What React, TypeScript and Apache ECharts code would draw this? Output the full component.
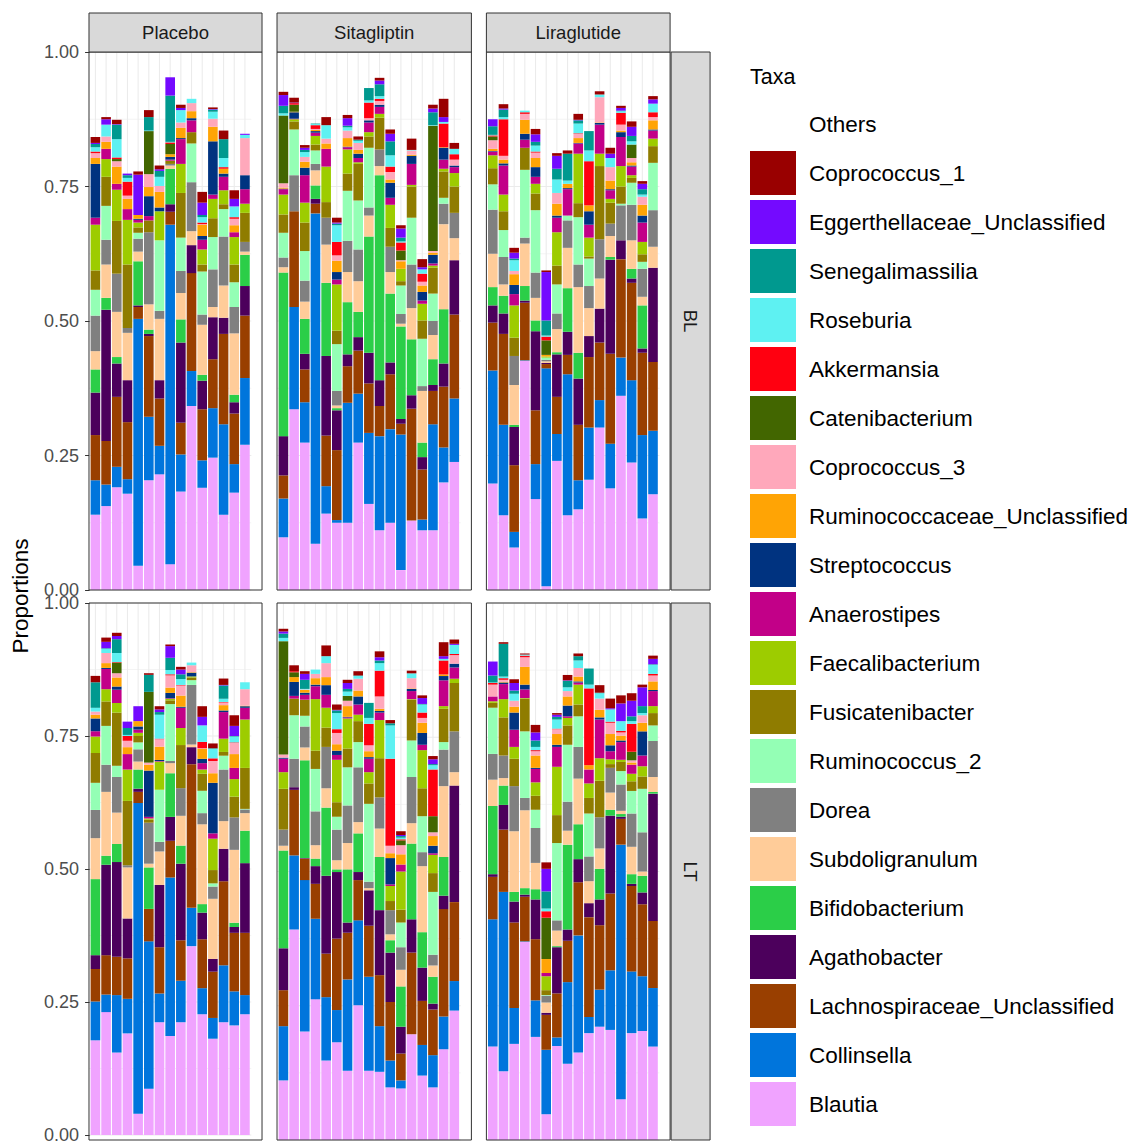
import React, { useEffect, useRef } from 'react';
import * as echarts from 'echarts';

// Stack order, bottom to top
const taxa = [
  'Blautia', 'Collinsella', 'Lachnospiraceae_Unclassified', 'Agathobacter', 'Bifidobacterium',
  'Subdoligranulum', 'Dorea', 'Ruminococcus_2', 'Fusicatenibacter', 'Faecalibacterium',
  'Anaerostipes', 'Streptococcus', 'Ruminococcaceae_Unclassified', 'Coprococcus_3', 'Catenibacterium',
  'Akkermansia', 'Roseburia', 'Senegalimassilia', 'Eggerthellaceae_Unclassified', 'Coprococcus_1',
];
const taxaColors = [
  '#F0A3FF', '#0075DC', '#993F00', '#4C005C', '#2BCE48',
  '#FFCC99', '#808080', '#94FFB5', '#8F7C00', '#9DCC00',
  '#C20088', '#003380', '#FFA405', '#FFA8BB', '#426600',
  '#FF0010', '#5EF1F2', '#00998F', '#740AFF', '#990000',
];
const treatments = ['Placebo', 'Sitagliptin', 'Liraglutide'];
const timepoints = ['BL', 'LT'];
const yTicks = [0, 0.25, 0.5, 0.75, 1];

// each row = one sample, values in taxa order (bottom to top)
const placeboBL = [
  [.14, .064, .084, .079, .043, .034, .066, .048, .036, .085, .013, .10, .011, .009, 0, .003, .008, .006, .002, .011],
  [.156, .04, .081, .244, .022, .062, .046, .063, .054, .033, .019, 0, .013, .010, 0, 0, .022, 0, .010, .004],
  [.191, .038, .13, .062, .012, .084, .071, 0, .098, .058, .011, 0, .032, .010, .004, .003, .034, .027, .001, .008],
  [.179, .027, .106, .078, 0, .088, .009, 0, .118, .083, .02, 0, .019, .006, 0, .026, .007, .005, .003, 0],
  [.045, .459, .022, .003, .082, .018, .024, .011, .01, .009, .005, .002, .007, 0, 0, 0, 0, 0, .075, .006],
  [.204, .118, .15, .004, .008, .047, .134, 0, .022, 0, .008, .037, .017, .024, .08, 0, .001, .025, 0, .013],
  [.215, .053, .088, .034, 0, .114, .015, .131, 0, .054, 0, .007, .029, .011, 0, 0, .017, .011, .003, .007],
  [.048, .631, .024, .014, .066, .006, .003, 0, .006, 0, .002, .005, .005, 0, .019, .003, .001, .086, .034, 0],
  [.183, .069, .059, .149, .043, .049, .041, .062, .083, .054, .046, .002, .019, .01, 0, 0, .023, 0, .004, .006],
  [.342, .065, .182, .052, 0, .026, .091, .072, .021, 0, .022, .004, .013, .015, 0, 0, .008, 0, 0, 0],
  [.19, .051, .095, .053, .011, .093, .019, .08, .013, .028, .018, .007, .021, .001, 0, .003, .01, .004, .023, .02],
  [.246, .092, .091, .078, 0, .019, .07, .06, .035, .036, .008, .099, .027, .015, 0, 0, .013, .004, .001, .003],
  [.14, .168, .168, .03, 0, .06, .091, .051, .009, .026, .025, .006, .009, 0, 0, .003, .017, .035, 0, .016],
  [.181, .053, .094, .021, .014, .114, .049, .046, .033, .051, .009, 0, .013, .012, 0, .003, .02, 0, .014, .016],
  [.27, .124, .116, .055, .058, .006, .018, 0, .054, .017, .027, .026, 0, .069, 0, 0, .006, 0, .002, 0],
];
const sitagliptinBL = [
  [.098, .072, .043, .073, .304, .01, .018, .046, .034, .037, .01, .001, .002, .008, .126, 0, .004, .014, .02, .006],
  [.336, .19, .178, 0, 0, 0, .067, .085, .015, .004, .001, .012, .001, 0, .013, .003, 0, 0, .001, .009],
  [.274, .075, .061, .029, .065, .032, .039, .055, .053, .037, .051, .014, .011, .009, 0, 0, .009, .004, .004, .005],
  [.086, .614, .018, .009, .025, .028, .012, .025, .011, .016, .006, .003, .002, .002, 0, .007, .002, .001, 0, 0],
  [.142, .051, .094, .148, .136, .071, .05, 0, .029, .066, .033, 0, .01, .009, 0, 0, .025, 0, 0, .015],
  [.125, .005, .13, .074, .004, .005, .027, .087, .025, .086, .009, .014, .021, .01, 0, .025, .031, .003, .002, .009],
  [.125, .223, .068, .022, .097, .056, .058, .093, .032, .045, .004, .001, .016, .014, 0, 0, .006, .003, .014, .006],
  [.274, .091, .08, .025, .047, .057, .059, .091, .068, .003, .008, .008, .007, .013, 0, 0, .004, .002, 0, .006],
  [.16, .132, .092, .057, .216, .039, .015, .111, .021, .008, .018, .004, 0, .004, 0, .029, .004, .023, 0, 0],
  [.111, .175, .056, .048, .381, .017, .031, 0, .059, .007, .013, .004, 0, .007, 0, .004, .005, .022, .007, .005],
  [.125, .174, .102, .022, .128, .04, .047, 0, .035, .043, .013, .028, .006, .014, 0, .01, .021, .026, .014, .008],
  [.037, .252, .02, .009, .172, .005, .018, .053, .008, .023, 0, 0, .014, .002, .018, .015, .002, .007, .017, .006],
  [.129, 0, .208, .025, .104, .058, .081, .087, .058, .003, .039, .015, .002, .008, 0, 0, .001, 0, 0, .021],
  [.111, .02, .093, .023, .027, .096, .009, .088, .034, .031, .006, .016, .012, .007, 0, .015, .008, 0, .004, .015],
  [.111, .197, .062, .011, .048, .045, .026, .051, .048, .004, .004, .016, .004, .003, .233, 0, .001, .024, .007, .007],
  [.2, .065, .113, .043, .101, .158, .038, .011, .049, .005, .017, .022, .001, 0, 0, .044, .003, 0, .009, .034],
  [.238, .118, .156, .101, 0, .041, .047, 0, .049, .025, .011, .003, 0, .011, 0, .01, .01, 0, 0, .011],
];
const liraglutideBL = [
  [.198, .21, .089, .032, .034, .062, .082, .047, .03, .024, .007, .001, .004, .016, .007, .002, .001, .016, .013, 0],
  [.139, .168, .169, .038, .033, .021, .051, .05, .035, .031, .054, .004, .007, .007, 0, .068, .004, .014, .002, .008],
  [.079, .029, .124, .071, .004, .074, .054, 0, .034, .06, .021, .017, .02, .006, 0, 0, .02, .003, .011, .009],
  [.426, .001, .107, .004, .027, .079, .011, .126, .041, 0, .015, .011, .026, .011, 0, .003, .003, 0, 0, 0],
  [.169, .065, .10, .147, .02, .042, .047, .116, .031, .018, .013, .018, .017, .01, 0, .002, .011, .007, .014, .01],
  [.007, .405, .008, .002, 0, .003, .003, .004, 0, .002, 0, 0, .003, 0, .027, .007, .002, .028, .09, .003],
  [.24, .05, .069, .079, .004, .043, .029, .054, .035, .062, .027, .004, .022, .02, 0, 0, .025, .02, .024, .005],
  [.139, .262, .036, .043, .081, .075, .051, .009, 0, 0, .049, .002, .008, 0, 0, 0, .006, .05, 0, .006],
  [.15, .054, .103, .086, .048, .122, .042, .088, .026, .092, .019, .001, .009, .008, 0, .001, .018, .006, .001, .011],
  [.205, .097, .131, .039, 0, .052, .041, .051, .004, .035, .024, .025, .011, 0, 0, .082, .02, .036, 0, 0],
  [.302, .051, .107, .063, 0, .056, .073, 0, .136, .023, .054, .003, .001, .047, 0, 0, .005, 0, 0, .006],
  [.189, .083, .167, .175, .005, .039, .023, 0, .039, .007, .016, .002, .016, .025, 0, 0, .017, 0, .008, .011],
  [.361, .071, .183, .035, 0, 0, .065, .003, .032, .038, .054, .009, .003, .011, 0, .022, .003, .001, .005, .004],
  [.237, .153, .181, .008, .018, .053, .066, .041, .009, .005, .016, .002, .006, .008, .025, 0, .006, .01, .017, .01],
  [.133, .155, .153, .008, .08, .016, .052, .013, .014, .023, .036, .013, .02, .015, 0, 0, .004, .01, .01, .005],
  [.178, .118, .128, .175, 0, .039, .068, .088, .031, .014, .015, .002, .017, .006, 0, .009, .016, 0, .008, .006],
];
const placeboLT = [
  [.178, .073, .061, .026, .143, .077, .053, .051, .056, .031, .01, .024, .007, .006, 0, 0, .007, .048, 0, .012],
  [.231, .033, .074, .17, .017, .12, .051, .073, .046, .023, .038, .002, .009, .019, 0, 0, .008, .001, .012, .008],
  [.155, .108, .072, .178, .034, .059, .067, .021, .10, .018, .025, .006, .017, .008, .02, .001, .017, .026, .006, .006],
  [.191, .065, .076, .075, 0, .096, .004, 0, .121, .059, .029, 0, .013, .012, 0, .009, .002, .013, .012, 0],
  [.04, .584, .021, .006, .036, .015, .023, .013, .012, .006, .006, .006, .01, 0, 0, 0, 0, 0, .028, 0],
  [.087, .277, .061, 0, .078, .007, .077, 0, .006, .002, .003, .087, .011, .004, .133, 0, 0, .032, 0, .003],
  [.212, .054, .087, .117, 0, .063, .018, .098, 0, .053, .001, .002, .025, .014, 0, .001, .045, .005, .005, .006],
  [.186, .298, .069, .045, .082, .019, .004, .107, .007, .003, .001, .01, .01, .023, 0, .002, .008, .023, .022, .003],
  [.212, .078, .076, .144, .034, .056, .052, 0, .081, .032, .038, .002, .021, .019, 0, .001, .011, .009, .009, .005],
  [.355, .072, .27, .032, 0, .005, .112, .009, .005, .002, 0, .007, .001, .013, 0, 0, .005, 0, 0, 0],
  [.227, .049, .092, .05, .016, .15, .021, .042, .032, .008, .012, .008, .019, .001, 0, .012, .031, 0, .016, .02],
  [.181, .039, .087, .024, 0, .113, .023, .006, .025, .059, .01, .095, .018, .023, 0, .005, .018, .001, 0, .009],
  [.212, .107, .158, .061, 0, .052, .097, .026, .007, .025, .05, .003, .01, .005, 0, .001, .006, .025, .001, .012],
  [.206, .064, .11, .011, .008, .137, .061, 0, .039, .033, .021, 0, .026, .021, 0, .001, .011, .001, .019, .02],
  [.227, .036, .117, .131, .061, .033, .007, .001, .077, .091, .022, .003, .001, .031, 0, 0, .013, 0, 0, 0],
];
const sitagliptinLT = [
  [.111, .101, .067, .078, .182, .009, .03, 0, .076, .031, .025, .002, 0, .006, .211, 0, .006, .008, .004, .005],
  [.392, .138, .122, .005, 0, 0, .053, .081, .031, 0, .005, .026, .009, 0, .009, .002, 0, 0, 0, .011],
  [.202, .282, .04, .001, .182, .024, .039, .02, .03, 0, .009, .004, .005, .001, 0, 0, .001, .017, .011, .005],
  [.262, .15, .065, .033, .014, .025, .063, .079, .034, .096, .024, .003, .012, .008, 0, 0, .008, 0, 0, 0],
  [.148, .118, .081, .145, .127, .036, .077, 0, .036, .037, .024, .018, .015, .026, 0, 0, .013, 0, 0, .02],
  [.182, .06, .133, .124, .005, .017, .057, .024, .027, .079, .009, .008, .012, .021, 0, .007, .03, .005, .001, .01],
  [.129, .17, .087, .019, .099, .049, .07, .071, .035, .056, .002, .001, .02, .01, .009, 0, .008, .005, .011, .006],
  [.251, .158, .075, .015, .072, .021, .102, .047, .039, .012, .019, .015, .011, .022, 0, 0, .005, .001, 0, .008],
  [.129, .175, .095, .066, 0, .004, .012, .145, .038, .021, .025, .003, .011, .011, 0, .04, .011, .028, 0, 0],
  [.127, .085, .095, .121, .099, .053, .058, 0, .073, .071, .014, .003, .004, .023, 0, .048, .014, .005, .006, .011],
  [.098, .05, .109, .092, .023, .011, .045, 0, .017, .028, .003, .049, .009, .014, 0, .162, .062, .004, 0, .006],
  [.096, .015, .05, .05, .075, .031, .042, .046, .024, .071, .013, 0, .019, .017, .009, .002, .003, .003, .002, .007],
  [.197, 0, .152, .062, .141, .038, .086, .068, .076, .001, .015, .004, .001, .019, 0, 0, .009, 0, 0, .005],
  [.12, .057, .082, .062, .066, .123, .026, .067, .052, .071, .01, .022, .019, .009, 0, .01, .015, .001, .011, .005],
  [.098, .06, .085, .011, .05, .021, .02, .117, .035, .034, .003, .014, .018, .007, .03, .087, .008, .002, .009, .006],
  [.169, .061, .20, .025, .072, .132, .068, .014, .062, .005, .048, .008, .003, 0, 0, .026, .003, 0, .005, .026],
  [.241, .055, .147, .217, 0, .025, .076, 0, .09, .008, .021, .007, 0, .016, 0, .002, .017, 0, .002, .008],
];
const liraglutideLT = [
  [.174, .237, .079, .005, .127, .049, .048, .086, .009, .003, .009, 0, 0, .022, 0, .003, .001, .013, .026, 0],
  [.128, .334, .116, .046, .036, .014, .042, 0, .071, .034, .028, .003, .001, .004, 0, .003, .003, .061, 0, .003],
  [.179, .067, .159, .039, .018, .113, .084, 0, .051, .022, .032, .032, .011, .011, 0, 0, .013, .006, .014, .007],
  [.369, .001, .083, .004, .012, .145, .023, .124, .061, .001, .016, .009, .033, .018, 0, .003, .002, 0, 0, .002],
  [.192, .068, .114, .074, .019, .049, .065, .034, .026, .025, .025, .002, .023, .008, 0, .002, .006, .012, .015, .014],
  [.048, .12, .065, .004, 0, .019, .013, .001, .009, .026, .006, 0, .026, 0, .077, .012, .005, .032, .042, .012],
  [.175, .016, .082, .086, .002, .029, .019, .144, .052, .09, .037, .004, .02, .009, 0, .001, .017, .005, .004, .003],
  [.142, .152, .077, .021, .158, .026, .054, .106, .036, .014, .003, .02, .017, .01, 0, 0, .007, .012, .001, .01],
  [.163, .218, .099, .043, .065, .085, .059, .057, .022, .037, .004, .002, .009, .016, 0, 0, .014, .008, 0, .005],
  [.199, .03, .186, .026, 0, .041, .046, .08, .029, .027, .026, 0, .008, 0, 0, .143, .007, .03, 0, 0],
  [.211, .069, .12, .048, .057, .038, .058, 0, .068, .042, .072, .004, .014, .021, 0, 0, .01, .001, 0, .014],
  [.205, .111, .143, .145, .011, .032, .046, 0, .007, .009, .015, .011, .021, .021, 0, .002, .023, 0, .002, .018],
  [.076, .474, .048, .004, .005, .006, .049, .025, .017, .004, .033, .003, .009, .006, 0, .003, .018, 0, .033, .015],
  [.199, .115, .159, .004, .018, .051, .062, .042, .018, .014, .017, 0, .004, .004, .016, .052, .005, .009, .029, .014],
  [.203, .102, .134, .022, .031, .008, .073, .081, .023, .019, .02, .045, .016, .014, 0, 0, .004, .013, .035, .005],
  [.174, .109, .125, .237, .003, .028, .067, .029, .023, .013, .028, .002, .016, .011, 0, .003, .017, .001, .01, .006],
];

const facets = [
  [placeboBL, sitagliptinBL, liraglutideBL],
  [placeboLT, sitagliptinLT, liraglutideLT],
];

const W = 1135;
const H = 1144;
const U = 10.68; // px per discrete x unit
const PANEL_LEFT = 89;
const PANEL_GAP = 15;
const ROW_TOPS = [52, 603];
const ROW_HEIGHTS = [538, 537];
const STRIP_TOP = 13;
const STRIP_H = 39;
const STRIP_W = 39;
const FONT = "'Liberation Sans', Arial, Helvetica, sans-serif";

export default function App() {
  const ref = useRef<HTMLDivElement>(null);

  useEffect(() => {
    const chart = echarts.init(ref.current as HTMLDivElement, null, { renderer: 'svg' });

    const colLefts: number[] = [];
    const colWidths: number[] = [];
    let cx = PANEL_LEFT;
    facets[0].forEach((bars) => {
      const w = (bars.length + 1.2) * U;
      colLefts.push(cx);
      colWidths.push(w);
      cx += w + PANEL_GAP;
    });
    const panelRight = colLefts[2] + colWidths[2];

    const grids: any[] = [];
    const xAxes: any[] = [];
    const yAxes: any[] = [];
    const series: any[] = [];
    const graphics: any[] = [];

    facets.forEach((row, r) => {
      row.forEach((bars, c) => {
        const g = r * 3 + c;
        const n = bars.length;
        // category slots of width U, first bar centre 0.6U from panel edge
        grids.push({
          left: colLefts[c] + 0.1 * U, top: ROW_TOPS[r], width: n * U, height: ROW_HEIGHTS[r],
          show: false,
        });
        xAxes.push({
          type: 'category', gridIndex: g, boundaryGap: true,
          data: bars.map((_, i) => 'S' + (i + 1)),
          axisLine: { show: false }, axisTick: { show: false }, axisLabel: { show: false },
          splitLine: { show: false },
        });
        yAxes.push({
          type: 'value', gridIndex: g, min: 0, max: 1, interval: 0.25,
          axisLine: { show: false },
          axisTick: { show: c === 0, length: 5, lineStyle: { color: '#333333', width: 1 } },
          axisLabel: {
            show: c === 0, fontSize: 18, color: '#4D4D4D', margin: 11, fontFamily: FONT,
            formatter: (v: number) => (yTicks.indexOf(v) >= 0 ? v.toFixed(2) : ''),
          },
          splitLine: { show: false },
          minorTick: { show: false, splitNumber: 2 },
          minorSplitLine: { show: false },
        });
        // panel grid lines (full panel width), drawn beneath bars
        series.push({
          type: 'custom', xAxisIndex: g, yAxisIndex: g, z: 1, silent: true,
          data: bars.map((_, i) => [i, 0]),
          encode: { x: 0, y: 1 },
          renderItem: (params: any, api: any) => {
            const cs = params.coordSys;
            const p = api.coord([api.value(0), 0]);
            const children: any[] = [{
              type: 'line',
              shape: { x1: p[0], y1: cs.y, x2: p[0], y2: cs.y + cs.height },
              style: { stroke: '#EBEBEB', lineWidth: 1.07 },
            }];
            if (params.dataIndex === 0) {
              for (let k = 0; k <= 8; k++) {
                const v = k / 8;
                const yy = api.coord([0, v])[1];
                children.push({
                  type: 'line',
                  shape: { x1: cs.x - 0.1 * U, y1: yy, x2: cs.x + cs.width + 0.1 * U, y2: yy },
                  style: { stroke: '#EBEBEB', lineWidth: k % 2 === 0 ? 1.07 : 0.53 },
                });
              }
            }
            return { type: 'group', children };
          },
        });
        taxa.forEach((name, k) => {
          series.push({
            type: 'bar', name, stack: 's' + g, xAxisIndex: g, yAxisIndex: g, z: 2,
            barWidth: 0.9 * U,
            itemStyle: { color: taxaColors[k] },
            emphasis: { disabled: true },
            data: bars.map((b) => b[k]),
          });
        });
        series.push({
          type: 'bar', name: 'Others', stack: 's' + g, xAxisIndex: g, yAxisIndex: g, z: 2,
          barWidth: 0.9 * U,
          itemStyle: { color: 'rgba(255,255,255,0)' },
          emphasis: { disabled: true },
          data: bars.map((b) => Math.max(0, 1 - b.reduce((a, v) => a + v, 0))),
        });
        // panel border
        graphics.push({
          type: 'rect', z: 100, silent: true,
          shape: { x: colLefts[c], y: ROW_TOPS[r], width: colWidths[c], height: ROW_HEIGHTS[r] },
          style: { fill: 'rgba(0,0,0,0)', stroke: '#333333', lineWidth: 1 },
        });
      });
    });

    // top strips
    treatments.forEach((t, c) => {
      graphics.push({
        type: 'rect', z: 100, silent: true,
        shape: { x: colLefts[c], y: STRIP_TOP, width: colWidths[c], height: STRIP_H },
        style: { fill: '#D9D9D9', stroke: '#333333', lineWidth: 1 },
      });
      graphics.push({
        type: 'text', z: 101, silent: true,
        x: colLefts[c] + colWidths[c] / 2, y: STRIP_TOP + STRIP_H / 2,
        style: { text: t, fontSize: 18.5, fontFamily: FONT, fill: '#1A1A1A', align: 'center', verticalAlign: 'middle' },
      });
    });
    // right strips
    timepoints.forEach((t, r) => {
      graphics.push({
        type: 'rect', z: 100, silent: true,
        shape: { x: panelRight + 1, y: ROW_TOPS[r], width: STRIP_W, height: ROW_HEIGHTS[r] },
        style: { fill: '#D9D9D9', stroke: '#333333', lineWidth: 1 },
      });
      graphics.push({
        type: 'text', z: 101, silent: true,
        x: panelRight + 1 + STRIP_W / 2, y: ROW_TOPS[r] + ROW_HEIGHTS[r] / 2,
        rotation: -Math.PI / 2,
        style: { text: t, fontSize: 18.5, fontFamily: FONT, fill: '#1A1A1A', align: 'center', verticalAlign: 'middle' },
      });
    });
    // y axis title
    graphics.push({
      type: 'text', z: 101, silent: true,
      x: 20, y: (ROW_TOPS[0] + ROW_TOPS[1] + ROW_HEIGHTS[1]) / 2,
      rotation: Math.PI / 2,
      style: { text: 'Proportions', fontSize: 22.5, fontFamily: FONT, fill: '#000000', align: 'center', verticalAlign: 'middle' },
    });
    // legend title
    graphics.push({
      type: 'text', z: 101, silent: true,
      x: 750, y: 77,
      style: { text: 'Taxa', fontSize: 21.5, fontFamily: FONT, fill: '#000000', align: 'left', verticalAlign: 'middle' },
    });

    chart.setOption({
      animation: false,
      backgroundColor: '#FFFFFF',
      grid: grids,
      xAxis: xAxes,
      yAxis: yAxes,
      legend: {
        orient: 'vertical', left: 750, top: 102, padding: 0,
        itemWidth: 46, itemHeight: 44, itemGap: 5, icon: 'rect',
        selectedMode: false,
        textStyle: { fontSize: 22.5, color: '#000000', fontFamily: FONT, padding: [0, 0, 0, 8] },
        data: ['Others', ...taxa.slice().reverse()],
      },
      series,
      graphic: { elements: graphics },
    });

    return () => chart.dispose();
  }, []);

  return <div ref={ref} style={{ position: 'absolute', left: 0, top: 0, width: W, height: H }} />;
}
